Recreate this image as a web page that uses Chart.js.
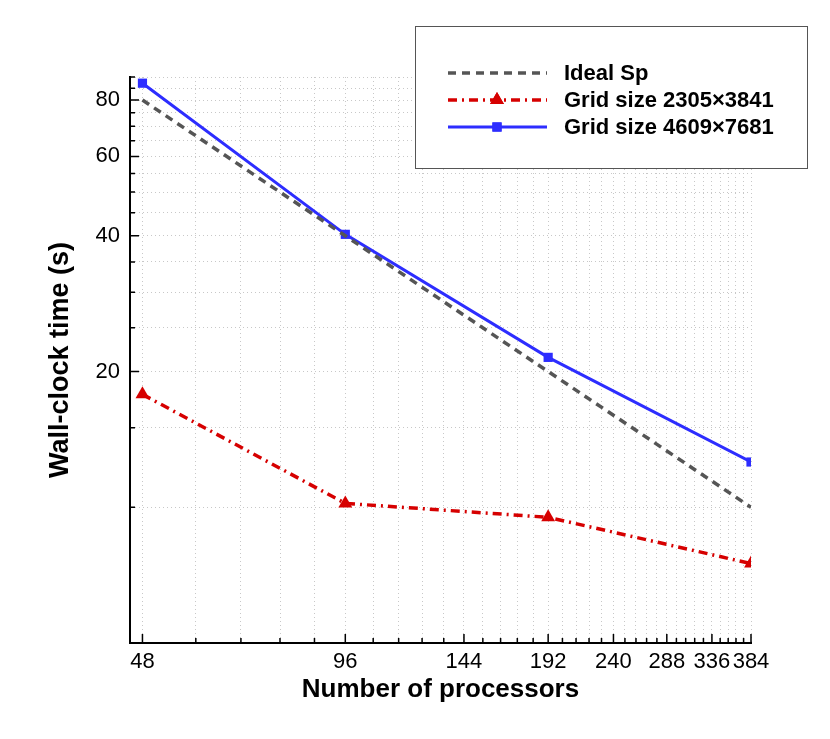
<!DOCTYPE html>
<html>
<head>
<meta charset="utf-8">
<script src="https://cdn.jsdelivr.net/npm/chart.js@4.4.0/dist/chart.umd.min.js"></script>
<style>
  html, body { margin: 0; padding: 0; background: #fff; }
  #wrap { width: 830px; height: 739px; }
</style>
</head>
<body>
<div id="wrap"><canvas id="scaling"></canvas></div>
<script>
// values (log-log axes)
const processors = [48, 96, 192, 384];
const idealTime = [80, 40, 20, 10];
const grid2305Time = [17.8, 10.2, 9.5, 7.5];
const grid4609Time = [87.2, 40.3, 21.5, 12.6];
const seriesNames = ['Ideal Sp', 'Grid size 2305\u00d73841', 'Grid size 4609\u00d77681'];

// tick values
const xMajorTicks = [48, 96, 144, 192, 240, 288, 336, 384];
const xMinorStep = 9.6;
const yTickValues = [10, 15, 20, 25, 30, 35, 40, 45, 50, 55, 60, 65, 70, 75, 80, 85, 90];
const yTickLabels = [20, 40, 60, 80];

const FONT = '"Liberation Sans", Arial, Helvetica, sans-serif';

function toPoints(ys) {
  return processors.map((p, i) => ({ x: p, y: ys[i] }));
}

function xTickList() {
  const list = [];
  for (let i = 0; i < xMajorTicks.length; i++) {
    list.push({ value: xMajorTicks[i], big: true });
    if (i < xMajorTicks.length - 1) {
      for (let v = xMajorTicks[i] + xMinorStep; v < xMajorTicks[i + 1] - 0.01; v += xMinorStep) {
        list.push({ value: v, big: false });
      }
    }
  }
  return list;
}

// tecplot-style tick marks pointing into the plot
const innerTicks = {
  id: 'innerTicks',
  afterDatasetsDraw(chart) {
    const ctx = chart.ctx;
    const xs = chart.scales.x;
    const ys = chart.scales.y;
    ctx.save();
    ctx.strokeStyle = '#000';
    ctx.lineWidth = 1.5;
    ctx.beginPath();
    xs.ticks.forEach(t => {
      const px = xs.getPixelForValue(t.value);
      const len = t.big ? 9 : 5;
      ctx.moveTo(px, xs.top);
      ctx.lineTo(px, xs.top - len);
    });
    ys.ticks.forEach(t => {
      const py = ys.getPixelForValue(t.value);
      const len = t.big ? 9 : 5;
      ctx.moveTo(ys.right, py);
      ctx.lineTo(ys.right + len, py);
    });
    ctx.stroke();
    ctx.restore();
  }
};

// boxed legend in the upper right
const boxLegend = {
  id: 'boxLegend',
  afterDraw(chart) {
    const ctx = chart.ctx;
    const bx = 415.5, by = 26.5, bw = 392, bh = 142;
    ctx.save();
    ctx.fillStyle = '#fff';
    ctx.fillRect(bx, by, bw, bh);
    ctx.strokeStyle = '#555';
    ctx.lineWidth = 1;
    ctx.strokeRect(bx, by, bw, bh);

    const rows = [73, 100, 127];
    chart.data.datasets.forEach((ds, i) => {
      const y = rows[i];
      ctx.save();
      ctx.strokeStyle = ds.borderColor;
      ctx.lineWidth = ds.borderWidth;
      ctx.setLineDash(ds.borderDash || []);
      ctx.beginPath();
      ctx.moveTo(448, y);
      ctx.lineTo(547, y);
      ctx.stroke();
      ctx.restore();
      if (ds.pointRadius > 0) {
        ctx.fillStyle = ds.pointBackgroundColor;
        Chart.helpers.drawPoint(ctx, {
          pointStyle: ds.pointStyle,
          radius: ds.pointRadius,
          borderWidth: 0,
          rotation: 0
        }, 497, y);
        ctx.fill();
      }
      ctx.fillStyle = '#000';
      ctx.font = 'bold 22px ' + FONT;
      ctx.textBaseline = 'middle';
      ctx.fillText(ds.label, 564, y + 1);
    });
    ctx.restore();
  }
};

new Chart(document.getElementById('scaling'), {
  type: 'line',
  data: {
    datasets: [
      {
        label: seriesNames[0],
        data: toPoints(idealTime),
        borderColor: '#555555',
        backgroundColor: '#555555',
        borderWidth: 3.5,
        borderDash: [8, 6],
        pointRadius: 0,
        pointBackgroundColor: '#555555',
        fill: false
      },
      {
        label: seriesNames[1],
        data: toPoints(grid2305Time),
        borderColor: '#d60000',
        backgroundColor: '#d60000',
        borderWidth: 3.5,
        borderDash: [9, 5, 2, 5],
        pointStyle: 'triangle',
        pointRadius: 8,
        pointBorderWidth: 0,
        pointBackgroundColor: '#d60000',
        fill: false
      },
      {
        label: seriesNames[2],
        data: toPoints(grid4609Time),
        borderColor: '#2d2dff',
        backgroundColor: '#2d2dff',
        borderWidth: 3,
        pointStyle: 'rect',
        pointRadius: 6.5,
        pointBorderWidth: 0,
        pointBackgroundColor: '#2d2dff',
        fill: false
      }
    ]
  },
  options: {
    responsive: true,
    maintainAspectRatio: false,
    animation: false,
    devicePixelRatio: 1,
    layout: { padding: { top: 77, right: 79, left: 0, bottom: 0 } },
    plugins: {
      legend: { display: false },
      tooltip: { enabled: false }
    },
    elements: { line: { tension: 0 } },
    scales: {
      x: {
        type: 'logarithmic',
        min: 46,
        max: 384,
        afterBuildTicks(scale) { scale.ticks = xTickList(); },
        afterFit(scale) { scale.height = 96; },
        ticks: {
          autoSkip: false,
          maxRotation: 0,
          padding: 6,
          color: '#000',
          font: { family: FONT, size: 22 },
          callback: (v) => (xMajorTicks.includes(v) ? String(v) : '')
        },
        grid: { color: '#c8c8c8', lineWidth: 1, drawTicks: false },
        border: { color: '#000', width: 2, dash: [1, 3] },
        title: {
          display: true,
          text: 'Number of processors',
          color: '#000',
          font: { family: FONT, size: 26, weight: 'bold' },
          padding: { top: 0, bottom: 34 }
        }
      },
      y: {
        type: 'logarithmic',
        min: 5,
        max: 90,
        afterBuildTicks(scale) {
          scale.ticks = yTickValues.map(v => ({ value: v, big: yTickLabels.includes(v) }));
        },
        afterFit(scale) { scale.width = 130; },
        ticks: {
          autoSkip: false,
          padding: 10,
          color: '#000',
          font: { family: FONT, size: 22 },
          callback: (v) => (yTickLabels.includes(v) ? String(v) : '')
        },
        grid: { color: '#c8c8c8', lineWidth: 1, drawTicks: false },
        border: { color: '#000', width: 2, dash: [1, 3] },
        title: {
          display: true,
          text: 'Wall-clock time (s)',
          color: '#000',
          font: { family: FONT, size: 27, weight: 'bold' },
          padding: { top: 44, bottom: 0 }
        }
      }
    }
  },
  plugins: [innerTicks, boxLegend]
});
</script>
</body>
</html>
